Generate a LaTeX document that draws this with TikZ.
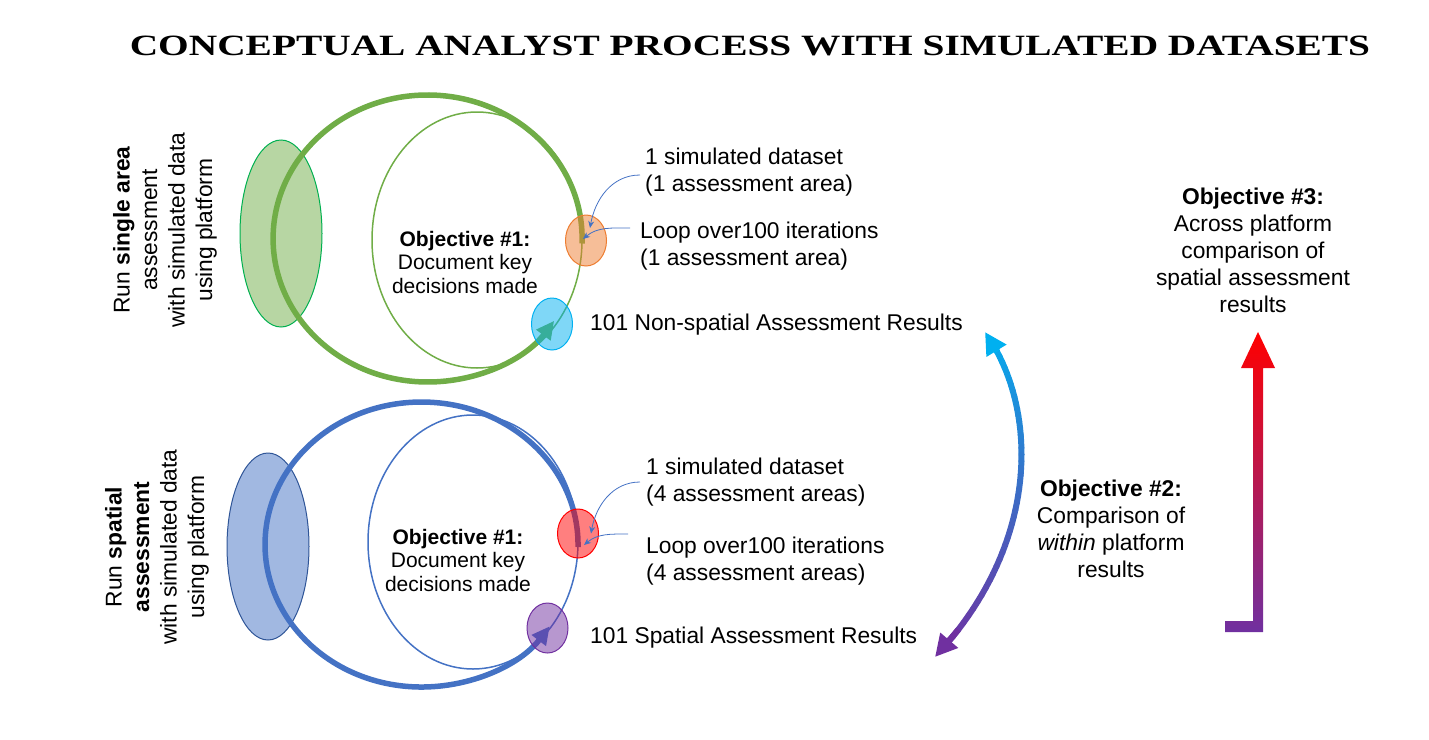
\documentclass[tikz,border=0pt]{standalone}
\usepackage{graphicx}
\usepackage{fontspec}
\setmainfont{Liberation Sans}
\newfontfamily\titlefont{Liberation Serif}
\usetikzlibrary{arrows.meta,shapes.geometric}
\definecolor{gA}{HTML}{70AD47}
\definecolor{gB}{HTML}{00B050}
\definecolor{bA}{HTML}{4472C4}
\definecolor{bB}{HTML}{2F5597}
\definecolor{oA}{HTML}{ED7D31}
\definecolor{cA}{HTML}{00B0F0}
\definecolor{rA}{HTML}{FF0000}
\definecolor{pA}{HTML}{7030A0}
\pgfdeclarelayer{bg}
\pgfsetlayers{bg,main}
\begin{document}
\begin{tikzpicture}[x=1pt,y=-1pt,
  txt/.style={font=\fontsize{22.8}{27}\selectfont, inner sep=0pt, align=left},
  obj/.style={font=\fontsize{21}{23.5}\selectfont, inner sep=0pt, align=center},
  objbig/.style={font=\fontsize{22.8}{27}\selectfont, inner sep=0pt, align=center},
  vert/.style={font=\fontsize{22.8}{27.5}\selectfont, inner sep=0pt, align=center, rotate=90},
  blob/.style={ellipse, inner sep=0pt, fill opacity=0.5, line width=1pt},
  thick arc/.style={line width=5.5pt, -{Triangle[length=18pt,width=17pt]}},
  thinarr/.style={bA, line width=0.8pt, -{Stealth[length=7pt,width=6pt]}}
]
\useasboundingbox (0,0) rectangle (1429,739);

% title
\node (title) at (750,46) {\resizebox{1240pt}{19.5pt}{\titlefont\bfseries CONCEPTUAL ANALYST PROCESS WITH SIMULATED DATASETS}};

% ---------- background layer: big ellipses and loops ----------
\begin{pgfonlayer}{bg}
\node[blob, fill=gA, draw=gB, minimum width=82pt, minimum height=187pt] (runA) at (281,233.5) {};
\node[blob, fill=bA, draw=bB, minimum width=82pt, minimum height=187pt] (runB) at (268,546.5) {};
\draw[gA, line width=1.5pt] (477,240) ellipse[x radius=105, y radius=128];
\draw[bA, line width=1.5pt] (473,542) ellipse[x radius=105, y radius=127];
\coordinate (startA) at (582,243.5);
\coordinate (startB) at (578,547);
\draw[gA, thick arc] (startA) arc[start angle=2, end angle=-325, x radius=154.5, y radius=143.5];
\draw[bA, thick arc] (startB) arc[start angle=1, end angle=-325, x radius=156.5, y radius=142.5];
\end{pgfonlayer}

% ---------- small circles ----------
\node[blob, fill=oA, draw=oA, minimum width=41pt, minimum height=51pt] (dsA) at (586,240.5) {};
\node[blob, fill=cA, draw=cA, minimum width=41pt, minimum height=52pt] (resAc) at (552,324) {};
\node[blob, fill=rA, draw=rA, minimum width=41pt, minimum height=49pt] (dsB) at (578,533.5) {};
\node[blob, fill=pA, draw=pA, minimum width=41pt, minimum height=50pt] (resBc) at (547.5,628) {};

% ---------- labels ----------
\node[txt, anchor=west] (dataA) at (645,172) {1 simulated dataset\\(1 assessment area)};
\node[txt, anchor=west] (loopA) at (640,246) {Loop over100 iterations\\(1 assessment area)};
\node[txt, anchor=west] (resA) at (590,325) {101 Non-spatial Assessment Results};
\node[txt, anchor=west] (dataB) at (646,482) {1 simulated dataset\\(4 assessment areas)};
\node[txt, anchor=west] (loopB) at (646,561) {Loop over100 iterations\\(4 assessment areas)};
\node[txt, anchor=west] (resB) at (590,638) {101 Spatial Assessment Results};

\node[obj] (objA) at (465,262) {\textbf{Objective \#1:}\\Document key\\decisions made};
\node[obj] (objB) at (458,560) {\textbf{Objective \#1:}\\Document key\\decisions made};

\node[vert] (runTxtA) at (165,230) {Run \textbf{single area}\\assessment\\with simulated data\\using platform};
\node[vert] (runTxtB) at (157,547) {Run \textbf{spatial}\\\textbf{assessment}\\with simulated data\\using platform};

\node[objbig] (obj2) at (1111,529) {\textbf{Objective \#2:}\\Comparison of\\\textit{within} platform\\results};
\node[objbig] (obj3) at (1253,250) {\textbf{Objective \#3:}\\Across platform\\comparison of\\spatial assessment\\results};

% ---------- thin arrows ----------
\draw[thinarr] ([xshift=-5pt,yshift=-3pt]dataA.west) to[out=180,in=80] ([xshift=4pt,yshift=12.5pt]dsA.center);
\draw[thinarr] ([xshift=-10pt,yshift=18pt]loopA.west) to[out=180,in=40] ([xshift=-3pt,yshift=1.5pt]dsA.center);
\draw[thinarr] ([xshift=-6pt,yshift=0pt]dataB.west) to[out=180,in=80] ([xshift=13pt,yshift=0pt]dsB.center);
\draw[thinarr] ([xshift=-18pt,yshift=27pt]loopB.west) to[out=180,in=40] ([xshift=6pt,yshift=-11.5pt]dsB.center);

% ---------- gradient double arrow ----------
\coordinate (tipT) at (985,332);
\coordinate (tipB) at (935,657);
\path (tipT) .. controls (1040,410) and (1040,545) .. (tipB)
  \foreach \i [evaluate=\i as \t using \i/50] in {0,...,50}{ coordinate[pos=\t] (g\i) };
\foreach \i in {2,...,47}{
  \pgfmathtruncatemacro{\j}{\i+1}
  \pgfmathtruncatemacro{\pc}{100-2*\i}
  \draw[line width=6pt, line cap=round, cA!\pc!pA] (g\i) -- (g\j);
}
\draw[line width=6pt, cA, -{Triangle[length=22pt,width=22pt]}] (g4) -- (g0);
\draw[line width=6pt, pA, -{Triangle[length=22pt,width=22pt]}] (g46) -- (g50);

% ---------- red/purple L arrow ----------
\shade[top color=rA, bottom color=pA]
  (1225,621) -- (1253,621) -- (1253,368) -- (1241,368) -- (1258,332) -- (1275,368)
  -- (1263,368) -- (1263,632) -- (1225,632) -- cycle;
\end{tikzpicture}
\end{document}
